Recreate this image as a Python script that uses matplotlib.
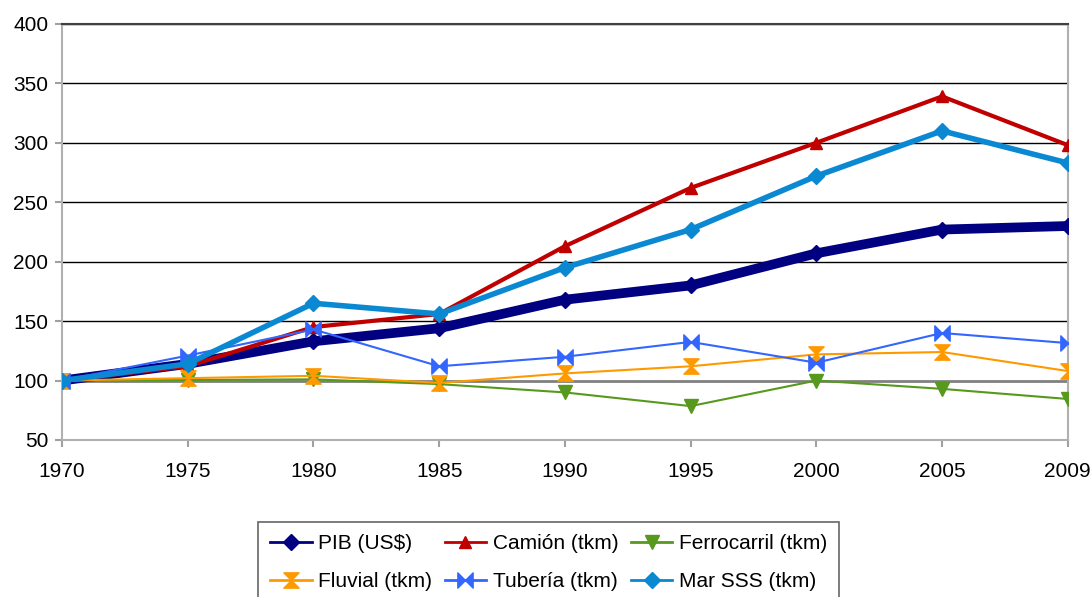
import numpy as np
import matplotlib
matplotlib.use("Agg")
import matplotlib.pyplot as plt
from matplotlib.lines import Line2D
from matplotlib.path import Path

plt.rcParams['font.family'] = ['Liberation Sans', 'DejaVu Sans']

years = ["1970", "1975", "1980", "1985", "1990", "1995", "2000", "2005", "2009"]
pib = [100, 114, 133, 144, 168, 180, 207, 227, 230]
camion = [100, 112, 145, 156, 213, 262, 300, 339, 298]
ferrocarril = [100, 100.5, 101, 97, 90, 78.5, 100, 93, 84.5]
fluvial = [100, 102, 104, 98, 106, 112, 122, 124, 108]
tuberia = [100, 121, 143, 112, 120, 132.5, 115, 140, 131.5]
mar_sss = [100, 114, 165, 156, 195, 227, 272, 310, 283]

# hourglass / bowtie markers like the excel ones
hourglass = Path([(-1, 1), (1, 1), (-1, -1), (1, -1), (-1, 1)],
                 [Path.MOVETO, Path.LINETO, Path.LINETO, Path.LINETO, Path.CLOSEPOLY])
bowtie = Path([(-1, 1), (-1, -1), (1, 1), (1, -1), (-1, 1)],
              [Path.MOVETO, Path.LINETO, Path.LINETO, Path.LINETO, Path.CLOSEPOLY])

series = [
    ("PIB (US$)", pib, "#000080", 7, "D", 8),
    ("Camión (tkm)", camion, "#c00000", 3, "^", 9),
    ("Ferrocarril (tkm)", ferrocarril, "#56991c", 1.5, "v", 10),
    ("Fluvial (tkm)", fluvial, "#ff9900", 1.5, hourglass, 11),
    ("Tubería (tkm)", tuberia, "#3366ff", 1.5, bowtie, 11),
    ("Mar SSS (tkm)", mar_sss, "#0a88d2", 4, "D", 8),
]

fig = plt.figure(figsize=(10.92, 5.97), dpi=100)
ax = fig.add_axes([0.0568, 0.263, 0.921, 0.697])

x = np.arange(len(years))
handles = []
for name, vals, col, lw, mk, ms in series:
    ax.plot(x, vals, color=col, lw=lw, marker=mk, ms=ms, mec=col, mfc=col,
            solid_joinstyle='round', zorder=3)
    handles.append(Line2D([], [], color=col, lw=2, marker=mk, ms=ms, mec=col, mfc=col))

ax.set_xlim(0, len(years) - 1)
ax.set_ylim(50, 400)
ax.set_xticks(x)
ax.set_xticklabels(years)
ax.set_yticks(np.arange(50, 401, 50))
ax.tick_params(labelsize=15, color="#a0a0a0", length=5, width=1.5)
ax.tick_params(axis="x", pad=11)
ax.tick_params(axis="y", pad=5)

for yv in range(150, 401, 50):
    ax.axhline(yv, color="black", lw=1, zorder=1)
ax.axhline(100, color="#808080", lw=2, zorder=1)

for s in ["left", "bottom", "right"]:
    ax.spines[s].set_color("#b0b0b0")
    ax.spines[s].set_linewidth(1.5)
ax.spines["top"].set_color("#404040")
ax.spines["top"].set_linewidth(1.5)

# legend row-major order -> reorder for matplotlib column fill
order = [0, 3, 1, 4, 2, 5]
leg = fig.legend([handles[i] for i in order], [series[i][0] for i in order],
                 ncol=3, loc="upper left", bbox_to_anchor=(0.236, 0.126),
                 fontsize=15, frameon=True, fancybox=False, borderaxespad=0,
                 handlelength=2.0, columnspacing=0.6, handletextpad=0.3,
                 labelspacing=0.9, borderpad=0.6)
leg.get_frame().set_edgecolor("#404040")
leg.get_frame().set_linewidth(1.2)

fig.savefig("out.png", dpi=100)
